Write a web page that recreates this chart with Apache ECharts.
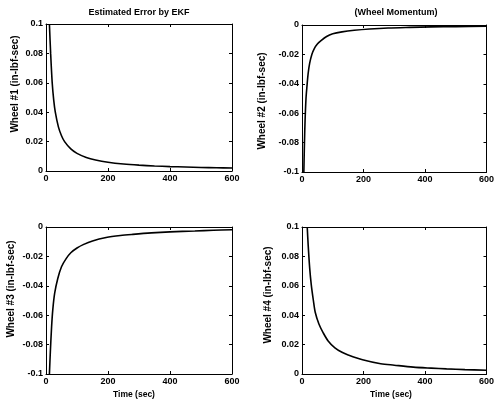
<!DOCTYPE html>
<html>
<head>
<meta charset="utf-8">
<script src="https://cdn.jsdelivr.net/npm/echarts@6/dist/echarts.min.js"></script>
<style>
html,body{margin:0;padding:0;background:#fff;}
#c{width:497px;height:403px;}
</style>
</head>
<body>
<div id="c"></div>
<script>
// ---- data ----
const xTicks = [0, 200, 400, 600];
const t1 = [11, 15, 20, 25, 30, 40, 50, 60, 80, 100, 130, 160, 200, 250, 300, 350, 400, 450, 500, 550, 600];
const v1 = [0.100, 0.080, 0.060, 0.048, 0.040, 0.030, 0.024, 0.020, 0.015, 0.012, 0.0092, 0.0075, 0.006, 0.0048, 0.004, 0.0034, 0.003, 0.0027, 0.0024, 0.0022, 0.002];
const t2 = [6, 8, 10, 13, 16, 20, 25, 32, 40, 50, 60, 80, 100, 130, 170, 220, 280, 350, 420, 500, 600];
const v2 = [-0.100, -0.080, -0.065, -0.050, -0.042, -0.033, -0.026, -0.020, -0.016, -0.013, -0.011, -0.0078, -0.006, -0.0047, -0.0036, -0.0027, -0.002, -0.0016, -0.0013, -0.0011, -0.0009];
const t3 = [11, 14, 18, 22, 28, 38, 50, 65, 80, 100, 120, 150, 194, 240, 280, 340, 400, 480, 540, 600];
const v3 = [-0.100, -0.085, -0.068, -0.056, -0.045, -0.035, -0.027, -0.0215, -0.0175, -0.0143, -0.012, -0.0095, -0.0072, -0.0058, -0.005, -0.004, -0.0033, -0.0027, -0.0022, -0.0019];
const t4 = [17, 20, 25, 30, 37, 43, 55, 69, 85, 107, 130, 150, 197, 256, 300, 362, 420, 470, 530, 600];
const v4 = [0.100, 0.088, 0.072, 0.061, 0.050, 0.042, 0.034, 0.028, 0.0225, 0.0178, 0.0148, 0.013, 0.0097, 0.0070, 0.0060, 0.0047, 0.0040, 0.0035, 0.0030, 0.0026];
const yNames = ['Wheel #1 (in-lbf-sec)', 'Wheel #2 (in-lbf-sec)', 'Wheel #3 (in-lbf-sec)', 'Wheel #4 (in-lbf-sec)'];
const titles = ['Estimated Error by EKF', '(Wheel Momentum)'];
const xName = 'Time (sec)';

// ---- chart ----
const FF = '"Liberation Sans", Arial, Helvetica, sans-serif';
const grids = [
  {left: 46, top: 24, width: 186, height: 147},
  {left: 302, top: 25, width: 187, height: 147},
  {left: 46, top: 227, width: 186, height: 147},
  {left: 302, top: 227, width: 188, height: 147}
];
const yRanges = [[0, 0.1], [-0.1, 0], [-0.1, 0], [0, 0.1]];
const series = [[t1, v1], [t2, v2], [t3, v3], [t4, v4]];

const lineStyle = {color: '#000', width: 1};
const tickStyle = {show: true, inside: true, length: 3, lineStyle: {color: '#000', width: 1}};
const labelStyle = {color: '#000', fontSize: 9, fontWeight: 'bold', fontFamily: FF};

const xAxis = [], yAxis = [], ser = [];
grids.forEach((g, i) => {
  xAxis.push({type: 'value', gridIndex: i, min: 0, max: 600, interval: 200, position: 'bottom',
    axisLine: {show: true, onZero: false, lineStyle}, axisTick: tickStyle,
    axisLabel: Object.assign({margin: 3}, labelStyle), splitLine: {show: false}});
  xAxis.push({type: 'value', gridIndex: i, min: 0, max: 600, interval: 200, position: 'top',
    axisLine: {show: true, onZero: false, lineStyle}, axisTick: tickStyle,
    axisLabel: {show: false}, splitLine: {show: false}});
  yAxis.push({type: 'value', gridIndex: i, min: yRanges[i][0], max: yRanges[i][1], interval: 0.02, position: 'left',
    axisLine: {show: true, onZero: false, lineStyle}, axisTick: tickStyle,
    axisLabel: Object.assign({margin: 3}, labelStyle), splitLine: {show: false}});
  yAxis.push({type: 'value', gridIndex: i, min: yRanges[i][0], max: yRanges[i][1], interval: 0.02, position: 'right',
    axisLine: {show: true, onZero: false, lineStyle}, axisTick: tickStyle,
    axisLabel: {show: false}, splitLine: {show: false}});
  const [ts, vs] = series[i];
  ser.push({type: 'line', xAxisIndex: 2 * i, yAxisIndex: 2 * i, data: ts.map((t, k) => [t, vs[k]]),
    showSymbol: false, smooth: 0.3, clip: true, lineStyle: {color: '#000', width: 1.6}, animation: false});
});

const txt = (s, x, y, rot, size) => ({type: 'text', x: x, y: y, rotation: rot || 0,
  style: {text: s, fill: '#000', font: 'bold ' + (size || 9) + 'px ' + FF, textAlign: 'center', textVerticalAlign: 'middle'}});

const graphic = [
  txt(titles[0], 139, 13, 0, 9),
  txt(titles[1], 396, 13, 0, 9),
  txt(yNames[0], 15, 84, Math.PI / 2, 10),
  txt(yNames[1], 262, 101, Math.PI / 2, 10),
  txt(yNames[2], 11, 289, Math.PI / 2, 10),
  txt(yNames[3], 268, 295, Math.PI / 2, 10),
  txt(xName, 134, 395, 0, 8.5),
  txt(xName, 391, 395, 0, 8.5)
];

const chart = echarts.init(document.getElementById('c'), null, {renderer: 'canvas'});
chart.setOption({
  animation: false,
  backgroundColor: '#fff',
  grid: grids,
  xAxis: xAxis,
  yAxis: yAxis,
  series: ser,
  graphic: graphic
});
</script>
</body>
</html>
